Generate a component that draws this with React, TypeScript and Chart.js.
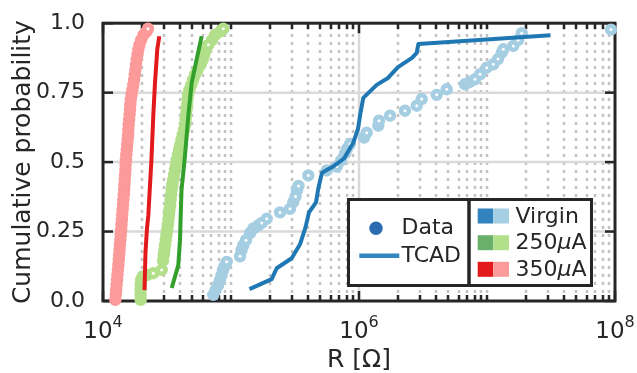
import React, { useEffect, useRef } from 'react';
import { Chart, registerables } from 'chart.js';

Chart.register(...registerables);

const FONT = 'DejaVu Sans';
const INK = '#262626';

// ---------------- data ----------------
// Virgin: measured data (light blue) and TCAD (dark blue)
const virginDataR = [72710, 75650, 79130, 82020, 84270, 86570, 88940, 92520, 117600, 120800, 124800, 131000, 140800, 149400, 163400, 173800, 190100, 241500, 289100, 306700, 319100, 327800, 336700, 401700, 559500, 669600, 723400, 777100, 805700, 850500, 1094000, 1149000, 1415000, 1433000, 1747000, 2288000, 2824000, 3089000, 4046000, 4844000, 6730000, 7365000, 8057000, 8819000, 9947000, 11200000, 12190000, 13030000, 13410000, 16050000, 17470000, 18670000, 93060000];
const virginDataP = [0.022, 0.039, 0.057, 0.075, 0.093, 0.111, 0.125, 0.141, 0.161, 0.183, 0.201, 0.219, 0.244, 0.261, 0.272, 0.281, 0.296, 0.319, 0.332, 0.356, 0.376, 0.398, 0.414, 0.452, 0.470, 0.484, 0.505, 0.531, 0.548, 0.565, 0.588, 0.606, 0.631, 0.649, 0.667, 0.685, 0.703, 0.727, 0.742, 0.762, 0.780, 0.789, 0.798, 0.816, 0.840, 0.852, 0.871, 0.894, 0.906, 0.918, 0.939, 0.964, 0.977];
const virginTcadR = [139500, 208000, 227500, 298000, 346000, 381900, 406700, 461500, 480800, 514000, 626600, 763600, 902800, 982200, 1027000, 1080000, 1375000, 1685000, 2017000, 2595000, 2824000, 2907000, 31340000];
const virginTcadP = [0.043, 0.079, 0.118, 0.154, 0.204, 0.265, 0.319, 0.355, 0.405, 0.462, 0.484, 0.513, 0.570, 0.620, 0.677, 0.731, 0.778, 0.803, 0.842, 0.875, 0.893, 0.925, 0.957];

// 250 uA: measured data (light green) and TCAD (dark green)
const i250DataR = [19700, 19670, 19670, 19700, 19880, 20350, 22270, 24710, 28740, 29430, 29850, 30180, 30560, 30940, 31340, 31730, 32130, 32480, 32780, 33070, 33430, 33730, 34040, 34350, 34780, 35350, 35930, 36510, 37110, 37710, 38460, 39310, 40170, 41040, 41930, 42930, 43790, 44180, 44580, 44980, 45390, 45800, 46210, 47310, 48950, 50560, 52320, 54820, 57860, 60090, 61730, 63530, 66580, 71290, 75240, 82170, 87040];
const i250DataP = [0.004, 0.022, 0.040, 0.058, 0.076, 0.088, 0.094, 0.100, 0.112, 0.145, 0.166, 0.184, 0.202, 0.220, 0.238, 0.256, 0.274, 0.292, 0.310, 0.328, 0.346, 0.364, 0.382, 0.400, 0.418, 0.436, 0.454, 0.472, 0.490, 0.508, 0.526, 0.544, 0.562, 0.580, 0.598, 0.616, 0.634, 0.652, 0.670, 0.688, 0.706, 0.724, 0.742, 0.760, 0.778, 0.796, 0.814, 0.832, 0.850, 0.868, 0.886, 0.904, 0.922, 0.940, 0.958, 0.970, 0.980];
const i250TcadR = [34410, 38750, 39950, 41040, 43710, 46380, 49300, 53940, 59020];
const i250TcadP = [0.047, 0.129, 0.219, 0.398, 0.523, 0.667, 0.785, 0.871, 0.953];

// 350 uA: measured data (pink) and TCAD (red)
const i350DataR = [12480, 12590, 12680, 12770, 12890, 12980, 13080, 13190, 13290, 13380, 13480, 13560, 13660, 13760, 13860, 13950, 14050, 14130, 14230, 14330, 14430, 14540, 14640, 14720, 14800, 14880, 14970, 15020, 15100, 15210, 15340, 15460, 15590, 15710, 15790, 15880, 16000, 16130, 16250, 16340, 16460, 16700, 16970, 17250, 17500, 17710, 17910, 18100, 18330, 18600, 18880, 19250, 19880, 20720, 21830, 22470];
const i350DataP = [0.004, 0.022, 0.040, 0.058, 0.076, 0.094, 0.112, 0.130, 0.148, 0.166, 0.184, 0.202, 0.220, 0.238, 0.256, 0.274, 0.292, 0.310, 0.328, 0.346, 0.364, 0.382, 0.400, 0.418, 0.436, 0.454, 0.472, 0.490, 0.508, 0.526, 0.544, 0.562, 0.580, 0.598, 0.616, 0.634, 0.652, 0.670, 0.688, 0.706, 0.724, 0.742, 0.760, 0.778, 0.796, 0.814, 0.832, 0.850, 0.868, 0.886, 0.904, 0.922, 0.940, 0.958, 0.970, 0.980];
const i350TcadR = [21100, 21480, 22070, 22590, 23290, 23930, 24710, 25480, 26560, 27530];
const i350TcadP = [0.039, 0.176, 0.262, 0.308, 0.416, 0.513, 0.667, 0.785, 0.907, 0.953];

// ---------------- axes ----------------
const xMajorTicks = [1e4, 1e6, 1e8];
const xMajorBase = ['10', '10', '10'];
const xMajorExp = ['4', '6', '8'];
const xDecades = [1e4, 1e5, 1e6, 1e7];
const xMinorMultipliers = [2, 3, 4, 5, 6, 7, 8, 9];
const yTicks = [0, 0.25, 0.5, 0.75, 1.0];
const yTickLabels = ['0.0', '0.25', '0.5', '0.75', '1.0'];
const yGridValues = [0.25, 0.5, 0.75];
const xGridMajor = [1e6];

const legendSeries = ['Virgin', '250', '350'];
const legendDark = ['#3182bd', '#6aaf6a', '#e31a1c'];
const legendLight = ['#a6cee3', '#b2df8a', '#fb9a99'];

const MARKER_OUTER = 6.2;
const MARKER_HOLE = 1.5;

const xMinorTicks: number[] = [];
xDecades.forEach((d) => {
  if (!xMajorTicks.includes(d)) xMinorTicks.push(d);
  xMinorMultipliers.forEach((m) => xMinorTicks.push(d * m));
});

const toPts = (xs: number[], ys: number[]) => xs.map((x, i) => ({ x, y: ys[i] }));

const lineDs = (label: string, xs: number[], ys: number[], color: string) => ({
  label,
  data: toPts(xs, ys),
  showLine: true,
  borderColor: color,
  backgroundColor: color,
  borderWidth: 4,
  pointRadius: 0,
  tension: 0,
  borderJoinStyle: 'round' as const,
});

const dataDs = (label: string, xs: number[], ys: number[], color: string) => ({
  label,
  data: toPts(xs, ys),
  showLine: false,
  pointStyle: 'circle',
  pointRadius: MARKER_OUTER - 1.5,
  pointBorderWidth: 3,
  pointBackgroundColor: color,
  pointBorderColor: color,
  clip: false as const,
  ringMarker: true,
});

const framePlugin = {
  id: 'frame',
  beforeDatasetsDraw(chart: any) {
    const { ctx, chartArea: a, scales } = chart;
    const x = scales.x;
    const y = scales.y;
    ctx.save();
    ctx.beginPath();
    ctx.rect(a.left, a.top, a.right - a.left, a.bottom - a.top);
    ctx.clip();
    ctx.strokeStyle = '#c2c2c2';
    ctx.lineWidth = 2.5;
    ctx.setLineDash([3, 5]);
    xMinorTicks.forEach((v) => {
      const px = Math.round(x.getPixelForValue(v));
      ctx.beginPath();
      ctx.moveTo(px, a.bottom);
      ctx.lineTo(px, a.top);
      ctx.stroke();
    });
    ctx.setLineDash([]);
    ctx.strokeStyle = '#dadada';
    ctx.lineWidth = 2.5;
    xGridMajor.forEach((v) => {
      const px = x.getPixelForValue(v);
      ctx.beginPath();
      ctx.moveTo(px, a.bottom);
      ctx.lineTo(px, a.top);
      ctx.stroke();
    });
    yGridValues.forEach((v) => {
      const py = y.getPixelForValue(v);
      ctx.beginPath();
      ctx.moveTo(a.left, py);
      ctx.lineTo(a.right, py);
      ctx.stroke();
    });
    ctx.restore();

    ctx.save();
    ctx.strokeStyle = INK;
    ctx.lineWidth = 2.5;
    const tick = (x1: number, y1: number, x2: number, y2: number) => {
      ctx.beginPath();
      ctx.moveTo(x1, y1);
      ctx.lineTo(x2, y2);
      ctx.stroke();
    };
    xMajorTicks.forEach((v) => {
      const px = x.getPixelForValue(v);
      tick(px, a.bottom, px, a.bottom - 10);
      tick(px, a.top, px, a.top + 10);
    });
    xMinorTicks.forEach((v) => {
      const px = Math.round(x.getPixelForValue(v));
      tick(px, a.bottom, px, a.bottom - 6);
      tick(px, a.top, px, a.top + 6);
    });
    yTicks.forEach((v) => {
      const py = y.getPixelForValue(v);
      tick(a.left, py, a.left + 10, py);
      tick(a.right, py, a.right - 10, py);
    });
    ctx.lineWidth = 3;
    ctx.strokeRect(a.left, a.top, a.right - a.left, a.bottom - a.top);
    ctx.restore();
  },
  // white centre of each ring marker that is not hidden by a later marker
  afterDatasetDraw(chart: any, args: any) {
    const ds = chart.data.datasets[args.index];
    if (!ds || !ds.ringMarker) return;
    const pts = args.meta.data as any[];
    const { ctx } = chart;
    ctx.save();
    ctx.fillStyle = '#ffffff';
    pts.forEach((p, i) => {
      let covered = false;
      for (let j = i + 1; j < pts.length; j++) {
        const d = Math.hypot(pts[j].x - p.x, pts[j].y - p.y);
        if (d > MARKER_HOLE && d < MARKER_OUTER) {
          covered = true;
          break;
        }
      }
      if (!covered) {
        ctx.beginPath();
        ctx.arc(p.x, p.y, MARKER_HOLE, 0, Math.PI * 2);
        ctx.fill();
      }
    });
    ctx.restore();
  },
  afterDatasetsDraw(chart: any) {
    const { ctx, chartArea: a, scales } = chart;
    const x = scales.x;
    ctx.save();
    ctx.fillStyle = INK;
    ctx.textBaseline = 'alphabetic';
    ctx.textAlign = 'left';
    xMajorTicks.forEach((v, i) => {
      const px = x.getPixelForValue(v);
      ctx.font = `23px "${FONT}"`;
      const bw = ctx.measureText(xMajorBase[i]).width;
      ctx.font = `16px "${FONT}"`;
      const ew = ctx.measureText(xMajorExp[i]).width;
      const start = px - (bw + ew) / 2;
      ctx.font = `23px "${FONT}"`;
      ctx.fillText(xMajorBase[i], start, a.bottom + 37.3);
      ctx.font = `16px "${FONT}"`;
      ctx.fillText(xMajorExp[i], start + bw, a.bottom + 26);
    });

    // legend
    const L = a.right - 266.5;
    const R = a.right - 23.5;
    const T = a.bottom - 101.5;
    const B = a.bottom - 15.5;
    const D = a.right - 146;
    ctx.fillStyle = '#ffffff';
    ctx.fillRect(L, T, R - L, B - T);
    ctx.strokeStyle = INK;
    ctx.lineWidth = 3;
    ctx.strokeRect(L, T, D - L, B - T);
    ctx.strokeRect(D, T, R - D, B - T);

    ctx.fillStyle = '#2b6cb0';
    ctx.beginPath();
    ctx.arc(L + 27.5, T + 28.8, 6.7, 0, Math.PI * 2);
    ctx.fill();
    ctx.strokeStyle = '#3585c0';
    ctx.lineWidth = 4.5;
    ctx.beginPath();
    ctx.moveTo(L + 10.8, T + 56.2);
    ctx.lineTo(L + 50.8, T + 56.2);
    ctx.stroke();

    ctx.fillStyle = INK;
    ctx.textBaseline = 'middle';
    ctx.font = `22px "${FONT}"`;
    ctx.fillText('Data', L + 53, T + 29);
    ctx.fillText('TCAD', L + 53, T + 56.5);

    const rows = [T + 16.5, T + 43.2, T + 69.8];
    legendSeries.forEach((name, i) => {
      const cy = rows[i];
      ctx.fillStyle = legendDark[i];
      ctx.fillRect(D + 8.7, cy - 7.5, 15.6, 15);
      ctx.fillStyle = legendLight[i];
      ctx.fillRect(D + 24.3, cy - 7.5, 15.7, 15);
      ctx.fillStyle = INK;
      ctx.font = `22px "${FONT}"`;
      let tx = D + 46.5;
      ctx.fillText(name, tx, cy + 1);
      if (i > 0) {
        tx += ctx.measureText(name).width;
        ctx.font = `italic 22px "${FONT}"`;
        ctx.fillText('\u03bc', tx, cy + 1);
        tx += ctx.measureText('\u03bc').width;
        ctx.font = `22px "${FONT}"`;
        ctx.fillText('A', tx, cy + 1);
      }
    });
    ctx.restore();
  },
};

export default function App() {
  const canvasRef = useRef<HTMLCanvasElement | null>(null);

  useEffect(() => {
    document.body.style.margin = '0';
    const canvas = canvasRef.current;
    if (!canvas) return;
    const chart = new Chart(canvas, {
      type: 'scatter',
      data: {
        datasets: [
          lineDs('Virgin TCAD', virginTcadR, virginTcadP, '#1f78b4'),
          lineDs('250uA TCAD', i250TcadR, i250TcadP, '#33a02c'),
          lineDs('350uA TCAD', i350TcadR, i350TcadP, '#e31a1c'),
          dataDs('Virgin data', virginDataR, virginDataP, '#a6cee3'),
          dataDs('250uA data', i250DataR, i250DataP, '#b2df8a'),
          dataDs('350uA data', i350DataR, i350DataP, '#fb9a99'),
        ] as any,
      },
      options: {
        animation: false,
        responsive: false,
        maintainAspectRatio: false,
        devicePixelRatio: 1,
        events: [],
        layout: { padding: { left: 0, right: 22, top: 22, bottom: 0 } },
        plugins: {
          legend: { display: false },
          tooltip: { enabled: false },
        },
        scales: {
          x: {
            type: 'logarithmic',
            position: 'bottom',
            min: 1e4,
            max: 1e8,
            grid: { display: false },
            border: { display: false },
            ticks: { display: false },
            afterBuildTicks: (s: any) => {
              s.ticks = xMajorTicks.map((v) => ({ value: v }));
            },
            afterFit: (s: any) => {
              s.height = 72;
            },
            title: {
              display: true,
              text: 'R [\u03a9]',
              color: INK,
              font: { family: FONT, size: 25 },
              padding: { top: 0, bottom: -2 },
            },
          },
          y: {
            type: 'linear',
            min: 0,
            max: 1,
            grid: { display: false },
            border: { display: false },
            afterBuildTicks: (s: any) => {
              s.ticks = yTicks.map((v) => ({ value: v }));
            },
            ticks: {
              color: INK,
              font: { family: FONT, size: 22 },
              padding: 10,
              autoSkip: false,
              callback: (_v: any, i: number) => yTickLabels[i],
            },
            afterFit: (s: any) => {
              s.width = 103;
            },
            title: {
              display: true,
              text: 'Cumulative probability',
              color: INK,
              font: { family: FONT, size: 25 },
              padding: { top: 8.5, bottom: 0 },
            },
          },
        } as any,
      },
      plugins: [framePlugin],
    });
    return () => chart.destroy();
  }, []);

  return (
    <div style={{ position: 'absolute', left: 0, top: 0, width: 637, height: 373, background: '#ffffff' }}>
      <canvas ref={canvasRef} width={637} height={373} style={{ display: 'block', width: 637, height: 373 }} />
    </div>
  );
}
